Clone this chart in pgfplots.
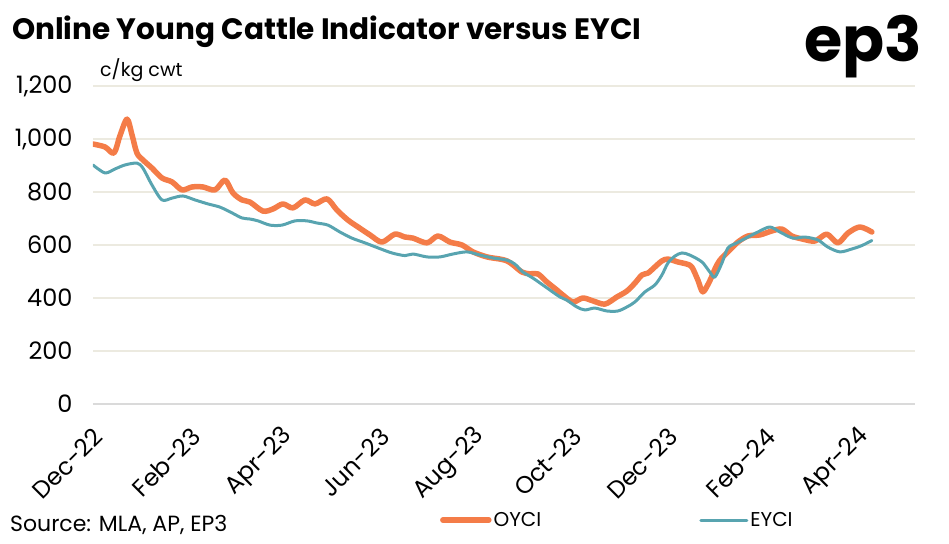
\documentclass[border=0pt]{standalone}
\usepackage{fontspec}
\setmainfont{Poppins}
\usepackage{pgfplots}
\pgfplotsset{compat=1.18}

\definecolor{oycic}{RGB}{244,124,72}
\definecolor{eycic}{RGB}{88,164,176}
\definecolor{gridc}{RGB}{236,234,224}
\definecolor{zeroc}{RGB}{218,218,218}

% x = days since 1 Dec 2022
\pgfplotstableread{
d v
0 981
7.6 970
13.3 947
17.1 1012
21.6 1075
24.8 1015
27.9 947
31.7 921
37.5 890
43.8 853
50.2 838
56.5 808
62.9 819
69.8 819
77.5 808
83.8 845
88.9 796
94.6 770
99.7 762
107.9 728
114.3 736
120.6 755
127.0 740
134.6 770
141.0 755
148.6 774
154.9 732
161.9 694
168.3 668
175.9 638
183.5 611
191.7 641
198.1 630
203.2 626
212.1 608
219.0 634
226.7 611
234.3 600
241.3 574
250.2 555
258.4 547
262.9 540
266.7 525
272.4 498
277.5 491
282.5 491
288.3 460
294.6 430
298.4 411
304.8 385
311.1 400
317.5 389
325.1 377
332.7 404
339.0 426
344.1 456
348.6 487
352.4 494
356.8 517
361.3 540
365.1 547
371.4 536
377.1 528
380.3 517
384.1 468
387.3 423
391.7 465
395.0 510
398.1 543
404.4 581
409.5 611
415.9 634
423.5 638
431.1 653
437.5 660
443.8 634
450.2 623
458.4 615
466.0 641
473.0 608
479.4 645
487.0 668
494.6 649
}\oyci

\pgfplotstableread{
d v
0 902
7.6 872
14.0 887
20.3 902
27.9 909
31.7 890
37.5 826
43.8 770
50.2 777
57.1 785
64.8 770
73.0 755
80.6 743
88.3 721
94.6 702
99.7 698
104.8 691
112.4 675
120.0 675
128.3 691
135.9 691
142.2 683
149.2 675
156.8 649
164.4 626
172.7 608
181.0 589
189.8 570
198.1 560
203.2 566
212.1 555
220.3 555
228.6 566
237.5 574
245.7 562
254.0 551
262.9 543
267.9 528
273.0 498
279.4 475
288.3 438
296.5 404
300.9 392
307.3 366
312.4 355
318.7 362
326.3 351
333.3 351
339.0 366
344.1 385
350.5 423
356.8 449
361.3 487
365.1 532
369.5 558
374.0 570
379.0 562
386.7 536
391.7 498
394.9 479
399.4 532
403.2 589
408.9 608
415.9 630
422.2 649
429.8 668
436.2 649
444.4 626
452.1 630
460.3 619
466.7 592
474.3 574
481.9 585
488.3 598
494.6 617
}\eyci

\begin{document}
\begin{tikzpicture}
\path[use as bounding box] (0,0) rectangle (949pt,543pt);
\node[anchor=base west, font=\fontsize{29.5}{34}\selectfont\bfseries, inner sep=0pt] at (12pt,503pt) {Online Young Cattle Indicator versus EYCI};
\node[anchor=base east, font=\fontsize{62}{70}\selectfont\bfseries, inner sep=0pt] at (922pt,481pt) {ep3};
\node[anchor=base west, font=\fontsize{19}{22}\selectfont, inner sep=0pt] at (100pt,466pt) {c/kg cwt};
\node[anchor=base west, font=\fontsize{22}{26}\selectfont, inner sep=0pt] at (10pt,12pt) {Source: MLA, AP, EP3};
\begin{axis}[
    at={(93pt,139pt)}, anchor=south west,
    scale only axis,
    width=822pt, height=318pt,
    xmin=0, xmax=522,
    ymin=0, ymax=1200,
    axis line style={draw=none},
    tick style={draw=none},
    ytick={0,200,...,1200},
    xtick={0,62,121,182,243,304,365,427,487},
    xticklabels={Dec-22,Feb-23,Apr-23,Jun-23,Aug-23,Oct-23,Dec-23,Feb-24,Apr-24},
    ymajorgrids,
    grid style={color=gridc, line width=1.6pt},
    /pgf/number format/assume math mode=true,
    /pgf/number format/1000 sep={,},
    yticklabel style={font=\fontsize{24}{28}\selectfont, anchor=east, xshift=-17pt},
    xticklabel style={font=\fontsize{24}{28}\selectfont, rotate=45, anchor=east, xshift=-13pt, yshift=-24pt},
    legend columns=2,
    legend style={draw=none, fill=none, at={(0.422,-0.365)}, anchor=west,
        font=\fontsize{20}{24}\selectfont, inner sep=0pt,
        /tikz/every even column/.append style={column sep=156pt}},
    legend image code/.code={\draw[#1, line cap=round] (0pt,0pt) -- (46pt,0pt);},
]
\addplot[draw=zeroc, line width=1.6pt, forget plot] coordinates {(0,0) (522,0)};
\addplot[oycic, line width=5.5pt, smooth, tension=0.5, line join=round, line cap=round] table[x=d,y=v] {\oyci};
\addlegendentry{OYCI}
\addplot[eycic, line width=3pt, smooth, tension=0.5, line join=round, line cap=round] table[x=d,y=v] {\eyci};
\addlegendentry{EYCI}
\end{axis}
\end{tikzpicture}
\end{document}
